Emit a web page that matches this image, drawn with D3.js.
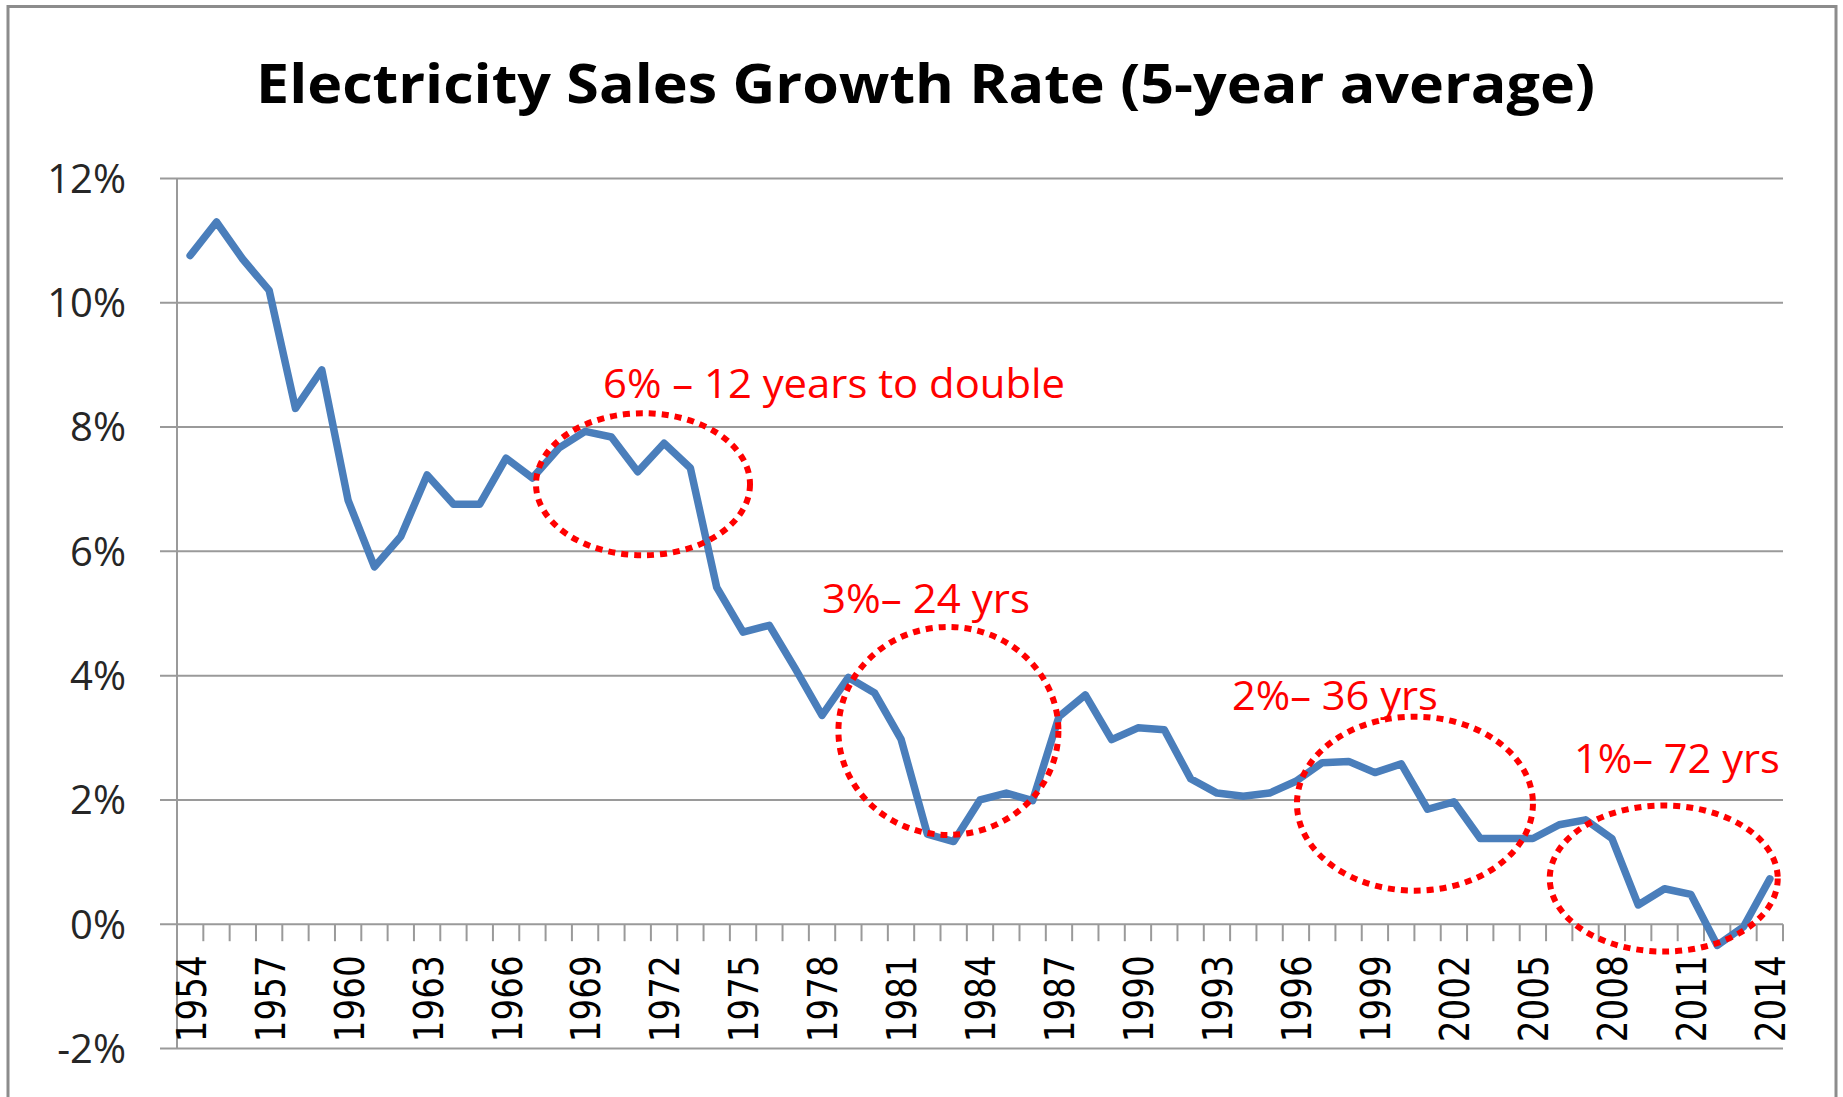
<!DOCTYPE html>
<html lang="en">
<head>
    <meta charset="utf-8" />
    <title>Electricity Sales Growth Rate</title>
    <script src="https://d3js.org/d3.v7.min.js"></script>
    <style>
        body {
            margin: 0;
            padding: 0;
            background: white;
        }
        svg {
            display: block;
        }
    </style>
</head>
<body>
<svg id="chart"></svg>
<script>
    var w = 1843;
    var h = 1097;

    // Years on the category axis
    var years = [1954, 1955, 1956, 1957, 1958, 1959, 1960, 1961, 1962, 1963,
                 1964, 1965, 1966, 1967, 1968, 1969, 1970, 1971, 1972, 1973,
                 1974, 1975, 1976, 1977, 1978, 1979, 1980, 1981, 1982, 1983,
                 1984, 1985, 1986, 1987, 1988, 1989, 1990, 1991, 1992, 1993,
                 1994, 1995, 1996, 1997, 1998, 1999, 2000, 2001, 2002, 2003,
                 2004, 2005, 2006, 2007, 2008, 2009, 2010, 2011, 2012, 2013, 2014];

    // 5-year average growth rate, in percent
    var growth = [10.76, 11.30, 10.70, 10.20, 8.30, 8.92, 6.82, 5.75, 6.24, 7.23,
                  6.76, 6.76, 7.50, 7.18, 7.66, 7.93, 7.84, 7.28, 7.74, 7.34,
                  5.42, 4.70, 4.81, 4.10, 3.36, 3.97, 3.72, 2.98, 1.45, 1.33,
                  2.00, 2.11, 1.99, 3.34, 3.69, 2.97, 3.16, 3.13, 2.34, 2.11,
                  2.06, 2.11, 2.30, 2.60, 2.62, 2.44, 2.58, 1.85, 1.97, 1.38,
                  1.38, 1.38, 1.60, 1.68, 1.38, 0.31, 0.57, 0.48, -0.34, -0.04, 0.73];

    // Labelled years (every third year) and y ticks
    var tickYears = [1954, 1957, 1960, 1963, 1966, 1969, 1972, 1975, 1978, 1981, 1984,
                     1987, 1990, 1993, 1996, 1999, 2002, 2005, 2008, 2011, 2014];
    var yTicks = [-2, 0, 2, 4, 6, 8, 10, 12];

    // Red notes: text, and the dotted ellipses (centre in year / percent)
    var noteTexts = ["6% \u2013 12 years to double", "3%\u2013 24 yrs", "2%\u2013 36 yrs", "1%\u2013 72 yrs"];
    var noteYears = [1969.68, 1978.0, 1993.57, 2006.56];
    var noteValues = [8.47, 5.01, 3.45, 2.43];
    var ringYears = [1971.2, 1982.8, 2000.52, 2009.97];
    var ringValues = [7.08, 3.11, 1.94, 0.735];

    var margin = {left: 177, right: 60, top: 178.5, bottom: 48.5};

    var svg = d3.select("#chart")
                .attr("width", w)
                .attr("height", h);

    // Chart border
    svg.append("rect")
        .attr("x", 8)
        .attr("y", 6.5)
        .attr("width", 1828)
        .attr("height", 1200)
        .attr("fill", "white")
        .attr("stroke", "#8c8c8c")
        .attr("stroke-width", 3);

    var xScale = d3.scaleBand()
                .domain(years)
                .range([margin.left, w - margin.right])
                .padding(0);

    // Continuous version of the year axis, for the notes
    var xYear = d3.scaleLinear()
                .domain([years[0] - 0.5, years[years.length - 1] + 0.5])
                .range([margin.left, w - margin.right]);

    var yScale = d3.scaleLinear()
                .domain([-2, 12])
                .range([h - margin.bottom, margin.top]);

    // Horizontal gridlines (they run a little left of the axis as ticks)
    svg.append("g")
        .selectAll("line")
        .data(yTicks)
        .enter().append("line")
        .attr("x1", margin.left - 17)
        .attr("x2", w - margin.right)
        .attr("y1", function(d) { return yScale(d); })
        .attr("y2", function(d) { return yScale(d); })
        .attr("stroke", "#9a9a9a")
        .attr("stroke-width", 2);

    // Vertical axis line
    svg.append("line")
        .attr("x1", margin.left)
        .attr("x2", margin.left)
        .attr("y1", yScale(12))
        .attr("y2", yScale(-2))
        .attr("stroke", "#9a9a9a")
        .attr("stroke-width", 2);

    // Y labels
    svg.append("g")
        .selectAll("text")
        .data(yTicks)
        .enter().append("text")
        .text(function(d) { return d + "%"; })
        .attr("x", 126)
        .attr("y", function(d) { return yScale(d); })
        .attr("dy", "0.36em")
        .attr("text-anchor", "end")
        .attr("font-family", "'Open Sans', sans-serif")
        .attr("font-size", "40px")
        .attr("fill", "#262626");

    // Category ticks between the years, hanging below the 0% line
    var bounds = years.map(function(d) { return xScale(d); }).concat([w - margin.right]);
    svg.append("g")
        .selectAll("line")
        .data(bounds)
        .enter().append("line")
        .attr("x1", function(d) { return d; })
        .attr("x2", function(d) { return d; })
        .attr("y1", yScale(0))
        .attr("y2", yScale(0) + 17)
        .attr("stroke", "#9a9a9a")
        .attr("stroke-width", 2);

    // Rotated year labels
    svg.append("g")
        .selectAll("text")
        .data(tickYears)
        .enter().append("text")
        .text(function(d) { return d; })
        .attr("transform", function(d) {
            return "translate(" + (xScale(d) + xScale.bandwidth() / 2 + 1) + "," + (yScale(0) + 31) + ") rotate(-90)";
        })
        .attr("dy", "0.36em")
        .attr("text-anchor", "end")
        .attr("textLength", 87)
        .attr("lengthAdjust", "spacingAndGlyphs")
        .attr("font-family", "'DejaVu Sans', sans-serif")
        .attr("font-size", "40px")
        .attr("fill", "black");

    // The growth line
    var line = d3.line()
                .x(function(d, i) { return xScale(years[i]) + xScale.bandwidth() / 2; })
                .y(function(d) { return yScale(d); });

    svg.append("path")
        .datum(growth)
        .attr("d", line)
        .attr("fill", "none")
        .attr("stroke", "#4a7ebb")
        .attr("stroke-width", 7.5)
        .attr("stroke-linejoin", "round")
        .attr("stroke-linecap", "round");

    // Dotted red ellipses
    var ringRx = [107, 110, 118, 114];
    var ringRy = [71, 104, 87, 73];
    svg.append("g")
        .selectAll("ellipse")
        .data(ringYears)
        .enter().append("ellipse")
        .attr("cx", function(d) { return xYear(d); })
        .attr("cy", function(d, i) { return yScale(ringValues[i]); })
        .attr("rx", function(d, i) { return ringRx[i]; })
        .attr("ry", function(d, i) { return ringRy[i]; })
        .attr("fill", "none")
        .attr("stroke", "#ff0000")
        .attr("stroke-width", 6)
        .attr("stroke-dasharray", "7,6");

    // Red note texts
    var noteWidths = [462, 208, 206, 206];
    svg.append("g")
        .selectAll("text")
        .data(noteTexts)
        .enter().append("text")
        .text(function(d) { return d; })
        .attr("x", function(d, i) { return xYear(noteYears[i]); })
        .attr("y", function(d, i) { return yScale(noteValues[i]); })
        .attr("textLength", function(d, i) { return noteWidths[i]; })
        .attr("lengthAdjust", "spacingAndGlyphs")
        .attr("font-family", "'Open Sans', sans-serif")
        .attr("font-size", "40px")
        .attr("fill", "#ff0000");

    // Title
    svg.append("text")
        .text("Electricity Sales Growth Rate (5-year average)")
        .attr("x", 925.5)
        .attr("y", 103)
        .attr("text-anchor", "middle")
        .attr("textLength", 1339)
        .attr("lengthAdjust", "spacingAndGlyphs")
        .attr("font-family", "'Open Sans', sans-serif")
        .attr("font-weight", "bold")
        .attr("font-size", "53px")
        .attr("fill", "black");
</script>
</body>
</html>
